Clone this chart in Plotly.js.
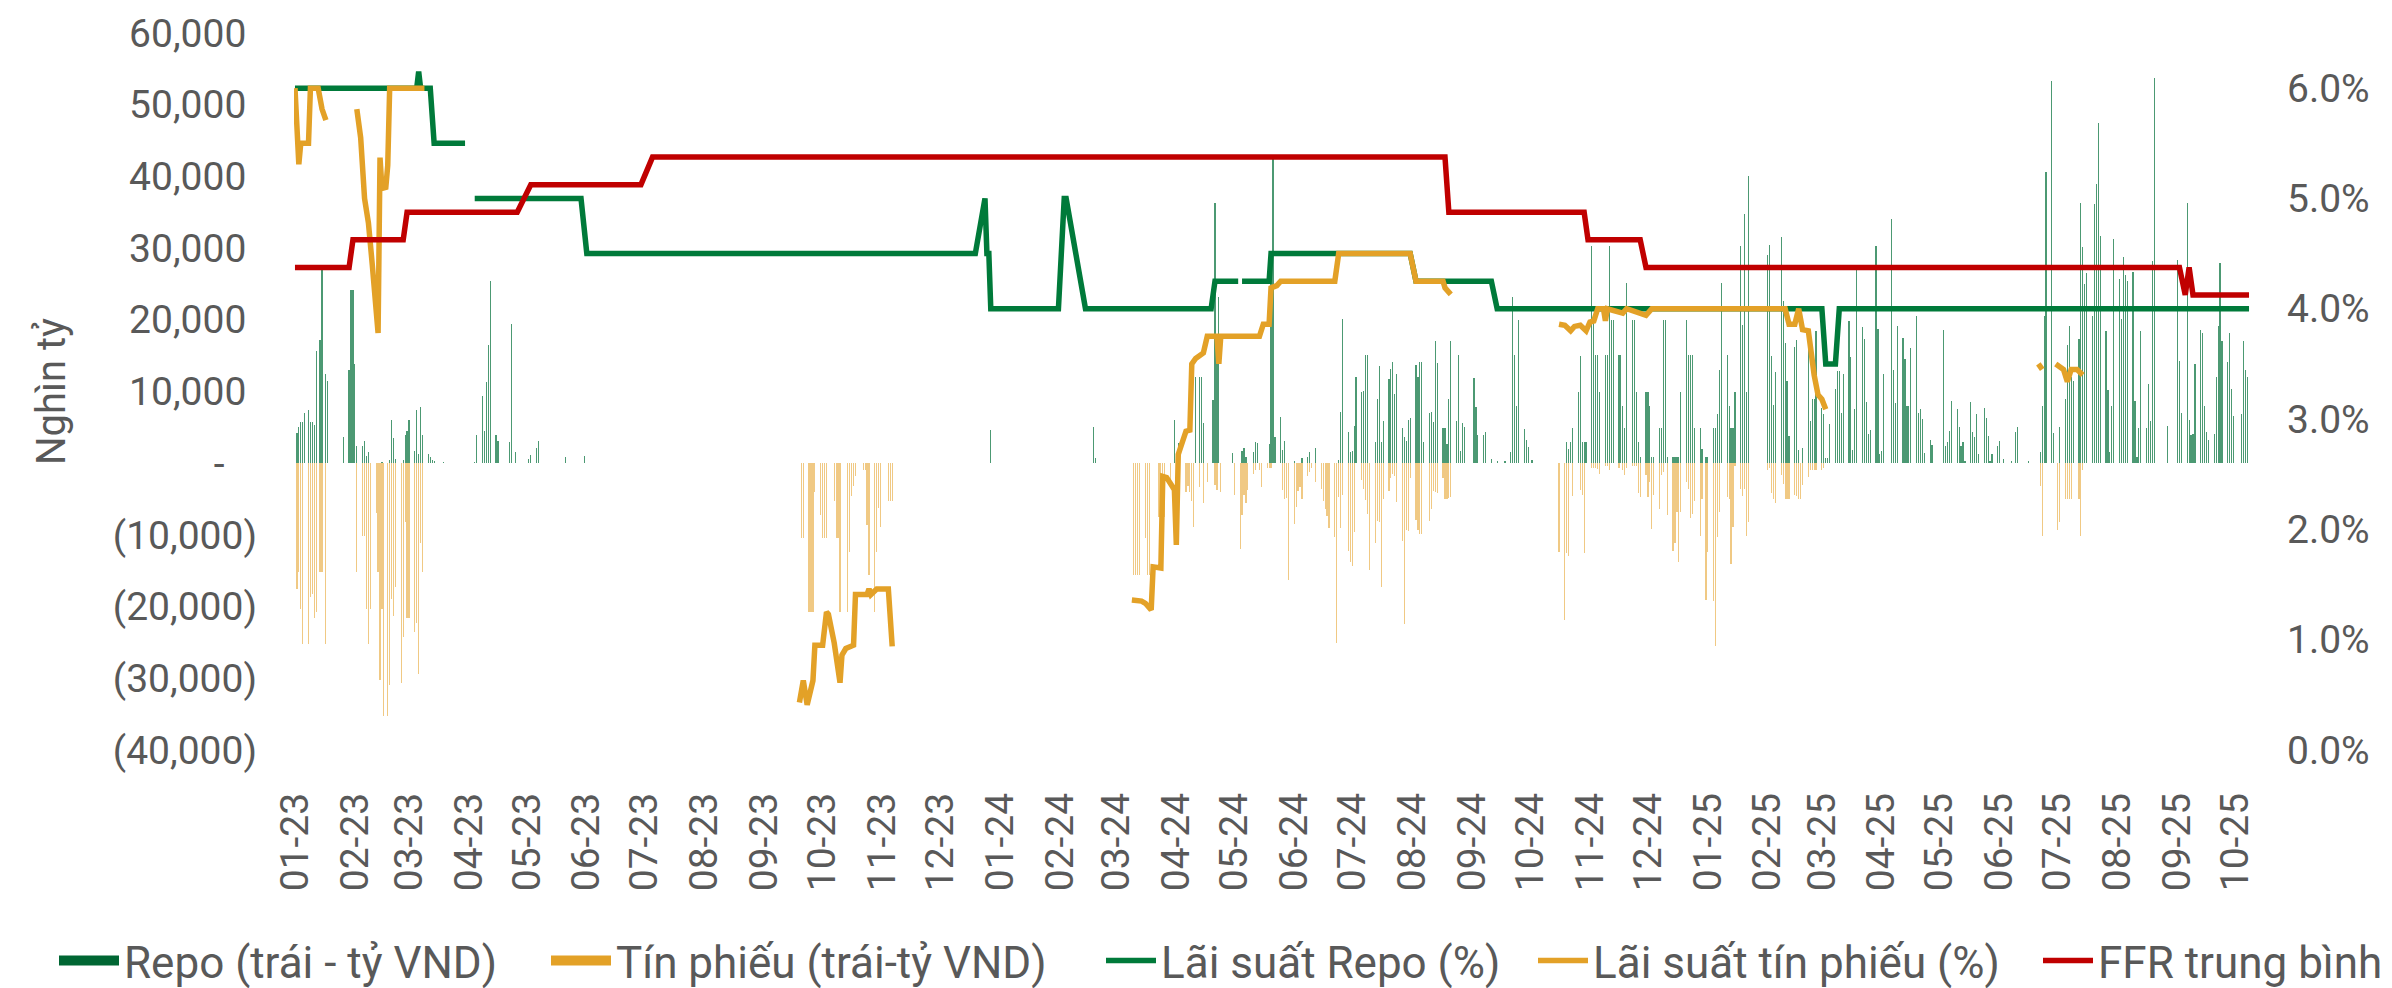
<!DOCTYPE html>
<html><head><meta charset="utf-8">
<script src="https://cdn.plot.ly/plotly-3.0.1.min.js"></script>
<style>html,body{margin:0;padding:0;background:#fff}#chart{width:2392px;height:988px}</style>
</head><body><div id="chart"></div>
<script>
// Day offsets are counted from 2023-01-01 (day 0)
const BASE_DATE = '2023-01-01';

// Repo (left axis, bn VND) - daily positive bars
const repoDay = [1,2,3,4,5,7,8,9,10,11,13,14,16,17,25,28,29,30,31,32,35,36,37,38,45,49,50,51,52,56,57,58,59,62,63,64,65,66,69,70,71,72,77,93,94,97,98,99,100,101,104,105,111,112,114,121,122,125,126,140,150,360,413,414,455,457,466,468,469,470,475,476,477,478,485,
490,491,492,496,497,498,504,505,506,507,510,511,512,517,521,524,525,528,540,541,542,545,546,547,548,549,552,553,554,555,559,560,561,562,563,566,567,568,569,570,573,574,575,576,577,580,581,582,583,584,587,588,589,590,591,594,595,596,597,598,601,602,603,604,605,610,611,612,615,616,619,622,
626,629,630,631,632,633,636,637,638,640,658,659,660,661,664,665,666,667,668,671,672,673,674,675,678,679,680,681,682,685,686,687,688,689,692,693,694,695,696,699,700,701,702,703,706,707,708,709,710,713,714,715,716,717,720,721,722,723,724,727,728,730,731,734,735,736,737,738,741,742,743,744,745,748,749,750,751,752,
762,763,764,765,766,769,770,771,772,773,776,777,778,780,783,784,785,786,787,790,791,792,793,794,797,798,799,800,801,804,805,806,807,808,811,812,813,814,815,818,819,820,821,822,826,827,828,829,832,833,834,835,836,839,840,841,842,843,846,847,853,854,855,856,857,860,861,862,863,864,867,868,869,870,871,874,875,876,877,878,881,882,884,
888,890,891,897,903,904,905,906,909,910,913,916,917,918,919,920,923,924,925,926,927,930,931,932,933,934,937,938,939,940,941,944,945,946,947,948,951,952,953,954,955,958,959,960,961,962,969,974,975,976,979,980,981,982,983,986,987,988,989,990,993,994,995,996,997,1000,1001,1002,1003,1007,1008,1009,1010];
const repoValue = [4200,5000,5750,5750,7000,7440,5700,5700,5350,15580,17200,27090,12440,11400,3600,13000,24200,24200,13840,2400,2440,3140,1000,1570,100,500,6050,3550,520,500,3950,4480,6050,1690,7440,1340,7850,3950,1340,800,500,350,100,200,4000,9400,4500,11280,16500,25350,4000,3140,2900,19400,1570,520,1200,2100,3140,800,1000,4600,5100,700,6000,2800,12000,12040,12000,5600,8790,36260,14370,23200,1400,
1690,2150,930,1510,3020,2790,2670,26980,42670,3720,6510,1860,3140,350,700,930,1510,2150,450,7090,20170,4300,1630,1740,5120,12090,10000,10120,15060,15060,2900,8950,13600,2900,5930,11690,13140,14070,9650,12440,4880,3600,3140,6050,6280,13720,12090,14070,14070,2900,6980,7210,5760,17090,14010,4880,4880,2670,8950,17090,5930,15060,1690,5580,5000,11860,7790,3950,3950,4300,520,350,
350,1510,23140,15120,8020,20000,4770,3260,2210,470,2970,1980,3020,4880,10000,15000,2900,2900,2900,30230,19650,15060,15060,10000,15060,15060,30230,20000,20000,15060,15060,8020,4880,25120,20000,20000,10000,2900,930,10000,10000,8020,930,930,4880,4880,20000,20000,930,930,930,930,930,10000,20000,15060,15060,15060,4880,4880,1980,930,930,4880,4880,6920,13020,25120,15060,8020,4880,4880,10000,30230,19300,34770,10000,40000,
29070,30470,15000,8140,12730,31510,22620,16740,11400,3840,16160,17210,1860,2090,16160,5930,8950,8950,18490,7670,6920,700,700,5470,10350,12910,12910,6980,12440,19830,14770,1860,7500,27090,18950,17330,8600,4010,4590,30230,18720,1280,1740,12440,34070,13020,8370,19070,17440,14590,7910,8020,16050,20580,7030,7620,6160,1400,3260,2560,18600,2440,3020,4530,8720,7620,4990,2380,2910,350,8490,4300,3720,6860,1280,7670,6280,3840,350,1280,2440,3140,580,
350,4300,5000,350,1510,7910,20580,40640,53310,4190,5000,8950,16510,19130,11980,11450,17270,36280,30170,24940,26510,20580,36160,39010,47500,31740,18490,10230,1510,7910,31220,25700,20120,28720,26280,25470,26630,8720,930,4880,18370,4880,11050,5930,28260,53720,5120,28370,14190,6980,36280,6000,3950,4070,13900,18550,18140,8020,4410,3260,4010,12090,19130,27970,17090,14070,18140,10290,6630,6920,17090,13020,12090];

// Tín phiếu (left axis, bn VND) - daily negative bars
const tinPhieuDay = [1,2,3,4,7,8,9,10,11,13,14,16,32,35,36,37,38,39,42,43,44,45,46,48,49,50,51,52,55,56,57,58,59,62,63,64,65,66,
262,263,266,267,268,269,272,273,274,275,279,280,281,282,286,287,288,289,290,294,295,296,297,300,301,302,303,307,308,309,
434,435,436,437,440,441,442,447,448,449,450,453,457,461,462,463,464,465,468,470,472,476,477,479,486,489,
490,491,492,493,496,497,499,500,503,504,505,511,512,513,514,517,518,519,520,521,524,525,526,528,531,532,533,534,535,538,539,540,541,542,545,546,547,548,552,553,554,555,556,559,560,561,562,563,566,567,568,569,570,573,574,575,576,577,580,581,582,583,587,588,589,590,591,594,595,596,597,598,
654,657,658,659,661,665,666,667,671,672,673,674,675,678,679,680,685,687,688,689,692,693,694,695,696,699,700,701,702,703,706,707,708,710,713,714,715,716,717,720,721,722,723,724,727,728,730,731,734,735,736,737,741,742,743,744,745,748,749,750,751,752,
762,763,764,765,766,769,770,771,772,773,776,777,778,779,780,783,784,785,786,787,790,791,
903,904,912,913,916,917,918,919,923,924,925];
const tinPhieuValue = [-17500,-15170,-20300,-25230,-25230,-18720,-18200,-21630,-20700,-15170,-15170,-25230,-15170,-10100,-10100,-20300,-25230,-20300,-7000,-15170,-30300,-20300,-35230,-35230,-31000,-19000,-21280,-17200,-30700,-24190,-8200,-21570,-21570,-23490,-22270,-29420,-11100,-15170,
-10420,-10420,-20700,-20700,-20700,-4040,-7220,-10420,-10420,-10420,-5300,-10420,-10420,-20700,-20700,-12400,-4600,-3180,-1760,-950,-950,-8650,-15550,-20700,-12400,-6300,-8900,-5300,-5300,-5300,
-15550,-15550,-15550,-15550,-10420,-15550,-15550,-7460,-7460,-5000,-7460,-3400,-2500,-4000,-3200,-4000,-5300,-8900,-3300,-5500,-2600,-3000,-3800,-4000,-4400,-11980,
-7210,-4420,-5580,-3720,-1510,-930,-930,-3260,-600,-600,-600,-3720,-5000,-4880,-16340,-8490,-6160,-3840,-3260,-5000,-1800,-1250,-650,-2670,-3550,-5290,-6450,-7330,-9070,-10230,-25060,-4710,-9070,-4420,-12270,-13720,-14300,-9530,-2380,-3550,-5120,-7030,-14880,-11100,-8020,-8200,-17210,-5000,-3840,-2090,-1510,-1800,-5470,-10810,-22440,-9360,-9420,-2090,-7910,-9360,-9940,-9940,-8080,-6450,-3840,-4070,-4190,-2090,-5000,-5000,-4880,-4710,
-12440,-21860,-12560,-12900,-4530,-3720,-4420,-12560,-640,-640,-640,-810,-1510,-350,-350,-930,-640,-930,-1630,-640,-350,-350,-350,-4130,-4710,-1630,-4710,-2670,-9190,-4420,-6450,-1630,-1220,-7210,-12270,-11100,-6740,-13720,-6740,-2670,-3600,-7620,-7030,-5290,-10120,-5000,-19070,-12440,-19240,-25470,-10230,-6740,-4710,-5000,-14010,-8950,-350,-3550,-4530,-3550,-10120,-8200,
-930,-640,-4130,-5000,-5580,-1630,-2960,-5000,-5000,-5000,-4420,-4530,-5000,-5000,-3020,-1980,-930,-930,-930,-930,-930,-640,
-3140,-10120,-9360,-8200,-5000,-5000,-5000,-5000,-5000,-10120,-930];

// Lãi suất Repo (%) - right axis
const repoRateDay = [0,63,64,65,70,72,88,90,93,148,151,352,357,358,359,360,395,398,399,409,474,476,488,489,490,504,505,577,580,619,622,790,792,797,799,1011];
const repoRate    = [6.0,6.0,6.15,6.0,6.0,5.5,5.5,null,5.0,5.0,4.5,4.5,5.0,4.5,4.5,4.0,4.0,5.0,5.0,4.0,4.0,4.25,4.25,null,4.25,4.25,4.5,4.5,4.25,4.25,4.0,4.0,3.5,3.5,4.0,4.0];

// Lãi suất tín phiếu (%) - right axis (gaps where no issuance)
const tpRateDay = [0,2,3,7,8,12,14,16,20,
32,34,36,38,40,42,43,44,45,47,48,49,67,80,
261,263,265,268,269,273,275,276,279,282,283,285,289,290,296,297,298,301,307,309,350,
433,438,440,443,444,448,449,451,455,456,457,461,463,464,466,470,472,477,478,479,499,501,504,505,508,510,538,540,577,580,594,595,598,620,
654,657,660,662,665,668,670,672,674,677,678,679,687,689,699,702,771,773,776,778,780,783,786,788,790,792,850,
902,904,907,911,915,917,919,922,925];
const tpRate = [6.0,5.31,5.5,5.5,6.0,6.0,5.81,5.71,null,
5.81,5.55,5.0,4.78,4.4,3.9,3.78,5.37,5.09,5.1,5.3,6.0,6.0,null,
0.43,0.63,0.41,0.63,0.95,0.95,1.25,1.23,0.97,0.61,0.86,0.92,0.95,1.41,1.41,1.46,1.41,1.46,1.46,0.94,null,
1.36,1.35,1.33,1.27,1.66,1.65,2.48,2.47,2.36,1.86,2.68,2.89,2.9,3.5,3.55,3.6,3.75,3.75,3.5,3.75,3.75,3.86,3.86,4.19,4.21,4.25,4.25,4.5,4.5,4.25,4.25,4.19,4.13,null,
3.86,3.85,3.8,3.84,3.85,3.8,3.88,3.89,4.0,4.0,3.89,4.0,3.96,4.0,3.94,4.0,4.0,3.86,3.86,4.0,3.81,3.8,3.4,3.22,3.18,3.09,null,
3.5,3.45,null,3.5,3.45,3.34,3.45,3.45,3.4];

// FFR trung bình (%) - right axis
const ffrDay  = [0,28,30,56,58,115,122,179,185,595,597,667,669,696,699,975,978,980,982,1011];
const ffrRate = [4.375,4.375,4.625,4.625,4.875,4.875,5.125,5.125,5.375,5.375,4.875,4.875,4.625,4.625,4.375,4.375,4.125,4.375,4.125,4.125];

// Axis ticks
const leftTickVals = [-40000,-30000,-20000,-10000,0,10000,20000,30000,40000,50000,60000];
const leftTickText = ['(40,000)','(30,000)','(20,000)','(10,000)','-\u2007\u2008','10,000\u2008','20,000\u2008','30,000\u2008','40,000\u2008','50,000\u2008','60,000\u2008'];
const rightTickVals = [0,1,2,3,4,5,6];
const rightTickText = ['0.0%','1.0%','2.0%','3.0%','4.0%','5.0%','6.0%'];

const DAY = 86400000;
const base = Date.parse(BASE_DATE + 'T00:00:00Z');
const toDate = d => new Date(base + d * DAY).toISOString().slice(0, 10);

const FONT = 'Roboto, "Open Sans", sans-serif';
const GREY = '#595959';
const TF = 39;
const LF = 44;

const traces = [
  // legend keys for the two bar series (drawn as thick short lines = filled rectangles)
  {type:'scatter', mode:'lines', x:[null], y:[null], name:'Repo (trái - tỷ VND)', line:{color:'#006633', width:23},
   yaxis:'y', hoverinfo:'skip', legend:'legend'},
  {type:'scatter', mode:'lines', x:[null], y:[null], name:'Tín phiếu (trái-tỷ VND)', line:{color:'#E3A127', width:23},
   yaxis:'y', hoverinfo:'skip', legend:'legend2'},
  {type:'bar', x:repoDay.map(toDate), y:repoValue, showlegend:false, width:0.62*DAY, name:'Repo (trái - tỷ VND)',
   marker:{color:'rgba(0,110,55,0.7)', line:{width:0}}, yaxis:'y'},
  {type:'bar', x:tinPhieuDay.map(toDate), y:tinPhieuValue, showlegend:false, width:0.62*DAY, name:'Tín phiếu (trái-tỷ VND)',
   marker:{color:'rgba(230,165,50,0.6)', line:{width:0}}, yaxis:'y'},
  {type:'scatter', mode:'lines', x:repoRateDay.map(toDate), y:repoRate, name:'Lãi suất Repo (%)',
   line:{color:'#007A3A', width:5.5}, yaxis:'y2', connectgaps:false, legend:'legend3'},
  {type:'scatter', mode:'lines', x:tpRateDay.map(toDate), y:tpRate, name:'Lãi suất tín phiếu (%)',
   line:{color:'#E3A127', width:5.5}, yaxis:'y2', connectgaps:false, legend:'legend4'},
  {type:'scatter', mode:'lines', x:ffrDay.map(toDate), y:ffrRate, name:'FFR trung bình',
   line:{color:'#C00000', width:5.5}, yaxis:'y2', legend:'legend5'}
];

const legendAt = (px, iw) => ({orientation:'h', xref:'container', yref:'container', x:px/2392, y:1-961/988,
  xanchor:'left', yanchor:'middle', font:{family:FONT, size:LF, color:GREY}, itemwidth:iw,
  bgcolor:'rgba(0,0,0,0)', borderwidth:0});

const layout = {
  width:2392, height:988,
  margin:{l:294, r:142, t:33, b:238},
  paper_bgcolor:'#fff', plot_bgcolor:'#fff',
  font:{family:FONT, size:TF, color:GREY},
  barmode:'relative', bargap:0,
  showlegend:true,
  legend:legendAt(54, 60), legend2:legendAt(546, 60), legend3:legendAt(1101, 50), legend4:legendAt(1533, 50), legend5:legendAt(2038, 50),
  xaxis:{type:'date', range:['2022-12-31 12:00','2025-10-08 12:00'], tick0:'2023-01-01', dtick:'M1', tickformat:'%m-%y',
         tickangle:-90, ticks:'', showline:false, showgrid:false, zeroline:false, ticklabelstandoff:34,
         tickfont:{family:FONT, size:TF, color:GREY}},
  xaxis2:{type:'date', matches:'x', overlaying:'x', anchor:'free', position:0.4, tick0:'2023-01-01', dtick:'M1',
          showticklabels:false, ticks:'outside', ticklen:13, tickwidth:2, tickcolor:'#d9d9d9',
          showline:true, linecolor:'#d9d9d9', linewidth:3, showgrid:false, zeroline:false},
  yaxis:{range:[-40000,60000], tickvals:leftTickVals, ticktext:leftTickText, ticks:'', showgrid:false, zeroline:false,
         showline:false, ticklabelstandoff:36, tickfont:{family:FONT, size:TF, color:GREY},
         title:{text:'Nghìn tỷ', font:{family:FONT, size:40, color:GREY}, standoff:34}},
  yaxis2:{range:[0,6.5], overlaying:'y', side:'right', tickvals:rightTickVals, ticktext:rightTickText, ticks:'',
          showgrid:false, zeroline:false, showline:false, ticklabelstandoff:36, tickfont:{family:FONT, size:TF, color:GREY}}
};

Plotly.newPlot('chart', traces, layout, {displayModeBar:false, staticPlot:true});
</script>
</body></html>
